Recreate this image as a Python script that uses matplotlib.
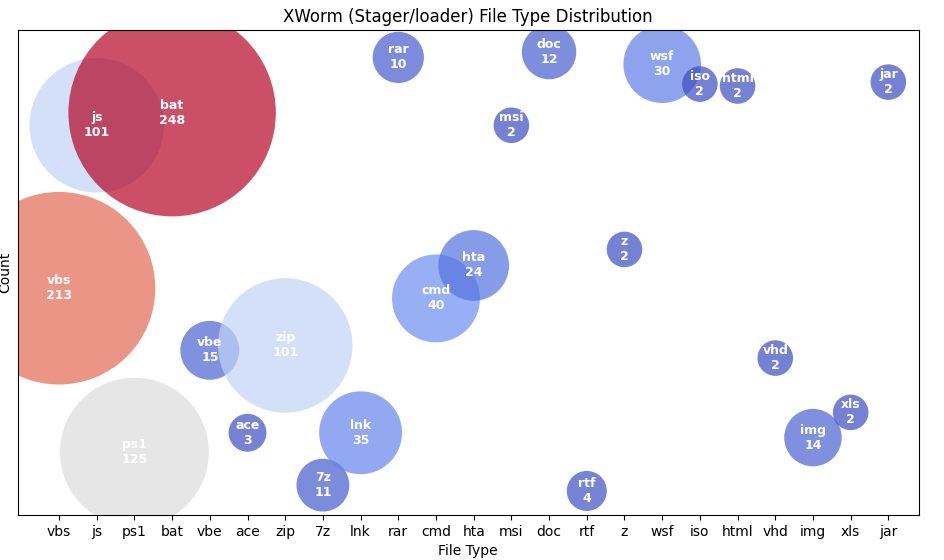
import matplotlib
matplotlib.use("Agg")
import matplotlib.pyplot as plt
import numpy as np

categories = ["vbs","js","ps1","bat","vbe","ace","zip","7z","lnk","rar","cmd","hta","msi","doc","rtf","z","wsf","iso","html","vhd","img","xls","jar"]
counts = [213,101,125,248,15,3,101,11,35,10,40,24,2,12,4,2,30,2,2,2,14,2,2]
ypos = [46.8,80.4,13,83,34,17,35,6.2,17,94.4,44.7,51.5,80.4,95.5,5,54.8,93,88.9,88.5,32.4,16,21.2,89.3]

fig, ax = plt.subplots(figsize=(9.44,5.6), dpi=100)
fig.subplots_adjust(left=0.019, right=0.973, top=0.946, bottom=0.08)
x = np.arange(len(categories))
c = np.array(counts)
sizes = c*88 + 480
ax.scatter(x, ypos, s=sizes, c=c, cmap="coolwarm", vmin=c.min(), vmax=c.max(), alpha=0.7, edgecolors="none")
for xi, yi, name, n in zip(x, ypos, categories, counts):
    ax.text(xi, yi, f"{name}\n{n}", ha="center", va="center", color="white", fontweight="bold", fontsize=9)
ax.set_xticks(x)
ax.set_xticklabels(categories)
ax.set_yticks([])
ax.set_xlim(-1.09, 22.8)
ax.set_ylim(0, 100)
ax.set_title("XWorm (Stager/loader) File Type Distribution")
ax.set_xlabel("File Type")
ax.set_ylabel("Count")
fig.savefig("out.png")
